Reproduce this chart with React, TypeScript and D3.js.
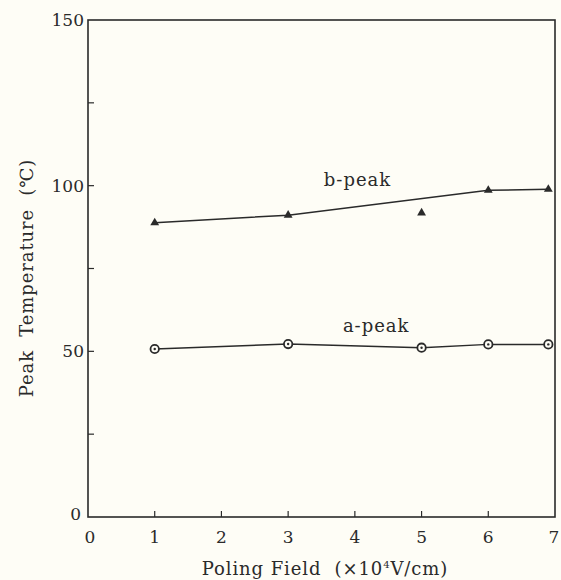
import React, { useEffect, useRef } from "react";
import * as d3 from "d3";

const fieldValues = [1, 3, 5, 6, 6.9];
const aPeak = [50.7, 52.2, 51.1, 52.1, 52.1];
const bPeak = [88.8, 91.1, 91.8, 98.6, 98.9];
// the b-peak point at 5 is left off the line in the original
const bOnLine = [true, true, false, true, true];
const xTicks = [0, 1, 2, 3, 4, 5, 6, 7];
const yTicks = [0, 50, 100, 150];
const yMinorTicks = [25, 75, 125];

const W = 561;
const H = 580;
const font = "DejaVu Serif";
const ink = "#2a2a2a";

const Chart = () => {
  const ref = useRef<SVGSVGElement>(null);

  useEffect(() => {
    const margin = { top: 20, right: 6, bottom: 63, left: 88 };
    const innerW = W - margin.left - margin.right;
    const innerH = H - margin.top - margin.bottom;

    const root = d3.select(ref.current);
    root.selectAll("*").remove();

    root.append("rect").attr("width", W).attr("height", H).attr("fill", "#fefdf6");

    const svg = root
      .append("g")
      .attr("transform", `translate(${margin.left}, ${margin.top})`);

    const x = d3.scaleLinear().domain([0, 7]).range([0, innerW]);
    const y = d3.scaleLinear().domain([0, 150]).range([innerH, 0]);

    // frame
    svg
      .append("rect")
      .attr("width", innerW)
      .attr("height", innerH)
      .attr("fill", "none")
      .attr("stroke", ink)
      .attr("stroke-width", 1.6);

    // x ticks (inward)
    svg
      .selectAll("xt")
      .data(xTicks.filter((d) => d > 0 && d < 7))
      .enter()
      .append("line")
      .attr("x1", (d) => x(d))
      .attr("x2", (d) => x(d))
      .attr("y1", innerH)
      .attr("y2", innerH - 6)
      .attr("stroke", ink)
      .attr("stroke-width", 1.2);

    svg
      .selectAll("xl")
      .data(xTicks)
      .enter()
      .append("text")
      .attr("x", (d) => x(d) + (d === 0 ? 2 : d === 7 ? -1 : 0))
      .attr("y", innerH + 26)
      .attr("text-anchor", "middle")
      .attr("font-family", font)
      .attr("font-size", 17)
      .attr("fill", ink)
      .text((d) => d);

    // y ticks
    svg
      .selectAll("yt")
      .data(yTicks.filter((d) => d > 0 && d < 150).concat(yMinorTicks))
      .enter()
      .append("line")
      .attr("x1", 0)
      .attr("x2", 6)
      .attr("y1", (d) => y(d))
      .attr("y2", (d) => y(d))
      .attr("stroke", ink)
      .attr("stroke-width", 1.2);

    svg
      .selectAll("yl")
      .data(yTicks)
      .enter()
      .append("text")
      .attr("x", (d) => (d === 0 ? -7 : -4))
      .attr("y", (d) => y(d) + (d === 0 ? 3 : 6))
      .attr("text-anchor", "end")
      .attr("font-family", font)
      .attr("font-size", 17)
      .attr("fill", ink)
      .text((d) => d);

    // lines
    const line = d3
      .line<number>()
      .x((d) => x(fieldValues[d]))
      .y((d) => y(aPeak[d]));
    svg
      .append("path")
      .attr("d", line(fieldValues.map((_, i) => i)))
      .attr("fill", "none")
      .attr("stroke", ink)
      .attr("stroke-width", 1.5);

    const lineB = d3
      .line<number>()
      .x((d) => x(fieldValues[d]))
      .y((d) => y(bPeak[d]));
    svg
      .append("path")
      .attr("d", lineB(fieldValues.map((_, i) => i).filter((i) => bOnLine[i])))
      .attr("fill", "none")
      .attr("stroke", ink)
      .attr("stroke-width", 1.5);

    // a-peak markers: circle with dot
    const aPts = svg
      .selectAll("ap")
      .data(fieldValues)
      .enter()
      .append("g")
      .attr("transform", (d, i) => `translate(${x(d)}, ${y(aPeak[i])})`);
    aPts
      .append("circle")
      .attr("r", 4.2)
      .attr("fill", "#fefdf6")
      .attr("stroke", ink)
      .attr("stroke-width", 1.8);
    aPts.append("circle").attr("r", 1.2).attr("fill", ink);

    // b-peak markers: filled triangles
    svg
      .selectAll("bp")
      .data(fieldValues)
      .enter()
      .append("path")
      .attr("transform", (d, i) => `translate(${x(d)}, ${y(bPeak[i])})`)
      .attr("d", d3.symbol(d3.symbolTriangle, 34)())
      .attr("fill", ink);

    // series labels
    svg
      .append("text")
      .attr("x", x(4.04))
      .attr("y", y(99.9))
      .attr("text-anchor", "middle")
      .attr("font-family", font)
      .attr("font-size", 18)
      .attr("letter-spacing", 1)
      .attr("fill", ink)
      .text("b-peak");
    svg
      .append("text")
      .attr("x", x(4.32))
      .attr("y", y(55.8))
      .attr("text-anchor", "middle")
      .attr("font-family", font)
      .attr("font-size", 18)
      .attr("letter-spacing", 1)
      .attr("fill", ink)
      .text("a-peak");

    // axis titles
    const xt = root
      .append("text")
      .attr("x", 325)
      .attr("y", 575)
      .attr("text-anchor", "middle")
      .attr("font-family", font)
      .attr("font-size", 18)
      .attr("letter-spacing", 0.9)
      .attr("fill", ink);
    xt.append("tspan").text("Poling Field\u00a0 (×10");
    xt.append("tspan").attr("font-size", 10).attr("dy", -7).text("4");
    xt.append("tspan").attr("dy", 7).text("V/cm)");

    root
      .append("text")
      .attr("transform", "translate(33, 278) rotate(-90)")
      .attr("text-anchor", "middle")
      .attr("font-family", font)
      .attr("font-size", 18)
      .attr("letter-spacing", 0.9)
      .attr("fill", ink)
      .text("Peak\u00a0 Temperature\u00a0 (℃)");
  }, []);

  return <svg ref={ref} width={W} height={H} style={{ display: "block" }}></svg>;
};

export default function App() {
  return (
    <div style={{ position: "absolute", left: 0, top: 0 }}>
      <Chart />
    </div>
  );
}
